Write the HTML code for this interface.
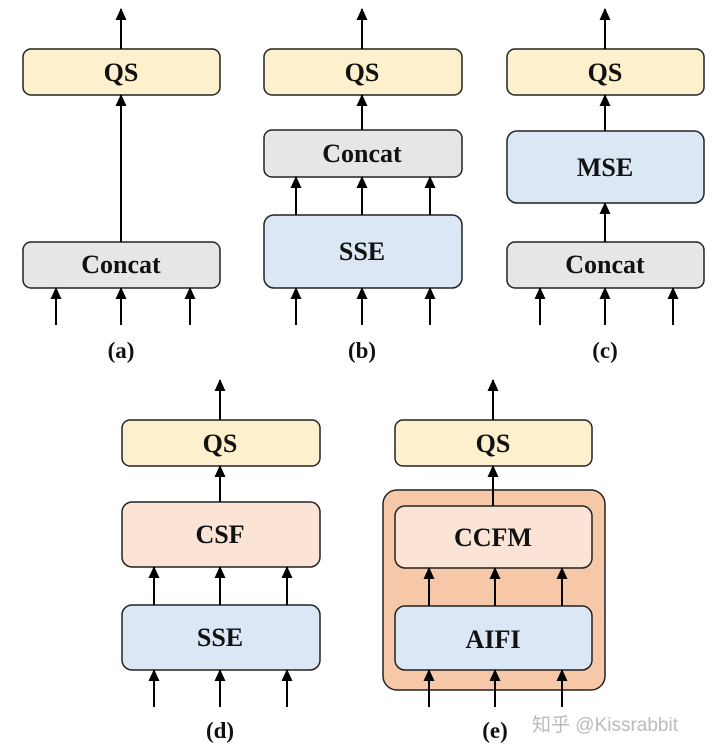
<!DOCTYPE html>
<html><head><meta charset="utf-8"><style>body{margin:0;background:#fff}svg{display:block}</style></head><body>
<svg width="720" height="755" viewBox="0 0 720 755" xmlns="http://www.w3.org/2000/svg" font-family="Liberation Serif, serif" font-weight="bold">
<defs><marker id="a" markerWidth="12" markerHeight="12" refX="11" refY="5.5" orient="auto" markerUnits="userSpaceOnUse"><path d="M0,0 L12,5.5 L0,11 Z" fill="#000"/></marker></defs>
<g stroke="#222" stroke-width="1.5">
<rect x="23" y="49" width="197" height="46" rx="8" fill="#fdf0cc"/>
<rect x="23" y="242" width="197" height="46" rx="8" fill="#e6e6e6"/>
<rect x="264" y="49" width="198" height="46" rx="8" fill="#fdf0cc"/>
<rect x="264" y="130" width="198" height="47" rx="8" fill="#e6e6e6"/>
<rect x="264" y="215" width="198" height="73" rx="10" fill="#dbe7f4"/>
<rect x="507" y="49" width="197" height="46" rx="8" fill="#fdf0cc"/>
<rect x="507" y="131" width="197" height="72" rx="10" fill="#dbe7f4"/>
<rect x="507" y="242" width="197" height="46" rx="8" fill="#e6e6e6"/>
<rect x="122" y="420" width="198" height="46" rx="8" fill="#fdf0cc"/>
<rect x="122" y="502" width="198" height="65" rx="10" fill="#fbe3d6"/>
<rect x="122" y="605" width="198" height="65" rx="10" fill="#dbe7f4"/>
<rect x="395" y="420" width="197" height="46" rx="8" fill="#fdf0cc"/>
<rect x="383" y="490" width="222" height="200" rx="14" fill="#f6c8a8"/>
<rect x="395" y="506" width="197" height="62" rx="10" fill="#fbe3d6"/>
<rect x="395" y="606" width="197" height="64" rx="10" fill="#dbe7f4"/>
</g>
<g stroke="#000" stroke-width="2" marker-end="url(#a)">
<line x1="121" y1="49" x2="121" y2="9"/><line x1="121" y1="242" x2="121" y2="95"/>
<line x1="56" y1="325" x2="56" y2="288"/><line x1="121" y1="325" x2="121" y2="288"/><line x1="190" y1="325" x2="190" y2="288"/>
<line x1="362" y1="49" x2="362" y2="9"/><line x1="362" y1="130" x2="362" y2="95"/>
<line x1="296" y1="215" x2="296" y2="177"/><line x1="362" y1="215" x2="362" y2="177"/><line x1="430" y1="215" x2="430" y2="177"/>
<line x1="296" y1="325" x2="296" y2="288"/><line x1="362" y1="325" x2="362" y2="288"/><line x1="430" y1="325" x2="430" y2="288"/>
<line x1="605" y1="49" x2="605" y2="9"/><line x1="605" y1="131" x2="605" y2="95"/><line x1="605" y1="242" x2="605" y2="203"/>
<line x1="540" y1="325" x2="540" y2="288"/><line x1="605" y1="325" x2="605" y2="288"/><line x1="673" y1="325" x2="673" y2="288"/>
<line x1="220" y1="420" x2="220" y2="380"/><line x1="220" y1="502" x2="220" y2="466"/>
<line x1="154" y1="605" x2="154" y2="567"/><line x1="220" y1="605" x2="220" y2="567"/><line x1="287" y1="605" x2="287" y2="567"/>
<line x1="154" y1="707" x2="154" y2="670"/><line x1="220" y1="707" x2="220" y2="670"/><line x1="287" y1="707" x2="287" y2="670"/>
<line x1="493" y1="506" x2="493" y2="466"/><line x1="493" y1="420" x2="493" y2="380"/>
<line x1="429" y1="606" x2="429" y2="568"/><line x1="495" y1="606" x2="495" y2="568"/><line x1="562" y1="606" x2="562" y2="568"/>
<line x1="429" y1="707" x2="429" y2="670"/><line x1="495" y1="707" x2="495" y2="670"/><line x1="562" y1="707" x2="562" y2="670"/>
</g>
<g font-size="26" text-anchor="middle" fill="#111">
<text x="121" y="81">QS</text><text x="121" y="273">Concat</text>
<text x="362" y="81">QS</text><text x="362" y="162">Concat</text><text x="362" y="260">SSE</text>
<text x="605" y="81">QS</text><text x="605" y="176">MSE</text><text x="605" y="273">Concat</text>
<text x="220" y="452">QS</text><text x="220" y="543">CSF</text><text x="220" y="646">SSE</text>
<text x="493" y="452">QS</text><text x="493" y="546">CCFM</text><text x="493" y="648">AIFI</text>
</g>
<g font-size="23" text-anchor="middle" fill="#111">
<text x="121" y="358">(a)</text><text x="362" y="358">(b)</text><text x="605" y="358">(c)</text>
<text x="220" y="738">(d)</text><text x="495" y="738">(e)</text>
</g>
<text x="532" y="731" font-family="Liberation Sans, Noto Sans CJK SC, sans-serif" font-weight="normal" font-size="19" fill="#bbb">知乎 @Kissrabbit</text>
</svg>
</body></html>
